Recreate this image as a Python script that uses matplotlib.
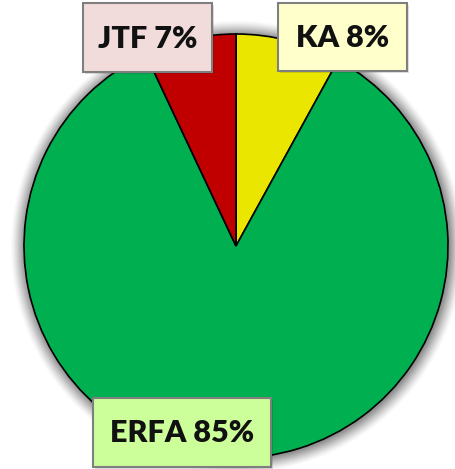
import matplotlib
matplotlib.use("Agg")
import matplotlib.pyplot as plt
from matplotlib.patches import Circle, Rectangle

labels = ["KA", "ERFA", "JTF"]
shares = [8, 85, 7]
colors = ["#EAE600", "#00B050", "#C00000"]
box_colors = ["#FFFFCC", "#CCFF99", "#F2DCDB"]

W, H = 456, 469
fig = plt.figure(figsize=(W / 100, H / 100), dpi=100)
ax = fig.add_axes([0, 0, 1, 1])

cx, cy, r = 236, H - 246, 212

# soft shadow
for i in range(14):
    ax.add_patch(Circle((cx + 1, cy - 1), r + 14 - i, color="black",
                        alpha=0.018 + i * 0.003, lw=0, zorder=0))

wedges, _ = ax.pie(shares, colors=colors, startangle=90, counterclock=False,
                   center=(cx, cy), radius=r,
                   wedgeprops=dict(edgecolor="black", linewidth=1.2))
for w in wedges:
    w.set_zorder(2)

# label boxes (x0, y0_top, x1, y1_bottom) in pixel coordinates
box_px = [(278, 3, 407, 71), (93, 398, 271, 467), (83, 3, 212, 72)]
for lab, v, bc, (x0, t, x1, b) in zip(labels, shares, box_colors, box_px):
    # small box shadow
    ax.add_patch(Rectangle((x0 + 2, H - b - 2), x1 - x0, b - t, facecolor="black",
                           alpha=0.12, lw=0, zorder=4))
    ax.add_patch(Rectangle((x0, H - b), x1 - x0, b - t, facecolor=bc,
                           edgecolor="#7F7F7F", linewidth=1.5, zorder=5))
    ax.text((x0 + x1) / 2, H - (t + b) / 2 - 1, f"{lab} {v}%", ha="center", va="center",
            fontsize=22, fontweight="heavy", family=["Lato", "DejaVu Sans"],
            color="#111111", zorder=6)

ax.set_xlim(0, W)
ax.set_ylim(0, H)
ax.set_aspect("equal")
ax.axis("off")
fig.savefig("out.png", dpi=100)
